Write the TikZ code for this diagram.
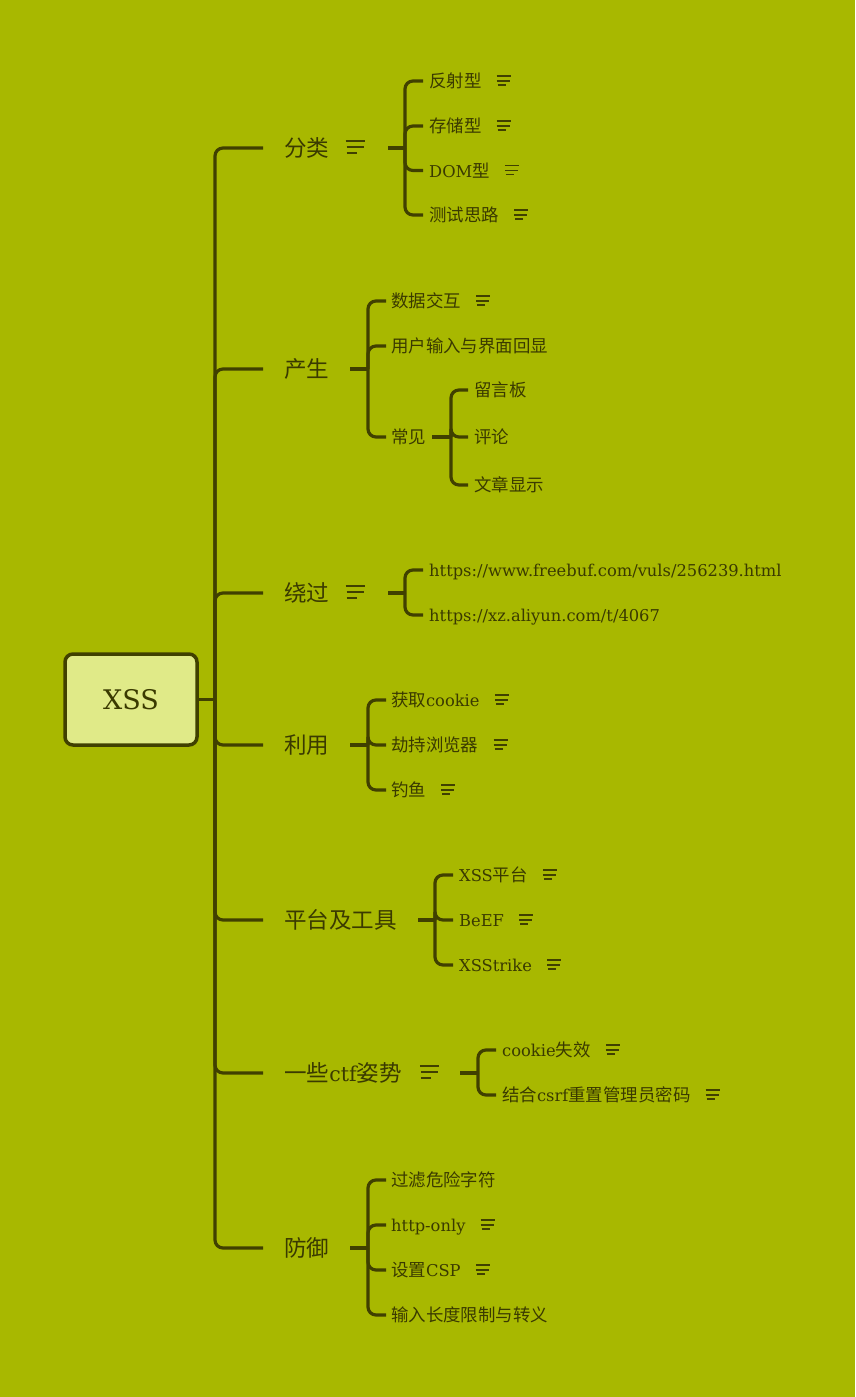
\documentclass[tikz,border=0pt]{standalone}
\usepackage{fontspec}
\setmainfont{DejaVu Serif}
\newfontfamily\cjk{Noto Sans CJK SC}[Scale=1.07]
\newfontfamily\cjkb{Noto Sans CJK SC}[Scale=1.1]
\usetikzlibrary{calc}
\definecolor{bgc}{RGB}{168,184,0}
\definecolor{ln}{RGB}{64,64,0}
\definecolor{tx}{RGB}{58,58,0}
\definecolor{rootfill}{RGB}{224,234,136}
\tikzset{
  conn/.style={draw=ln, line width=3.2pt, rounded corners=8pt},
  child/.style={anchor=west, inner sep=0pt, text=tx, text height=13pt, text depth=0pt, font=\fontsize{16.3}{19}\selectfont},
  branch/.style={anchor=west, inner sep=0pt, text=tx, text height=16.5pt, text depth=0pt, font=\fontsize{20.5}{24}\selectfont},
  icon/.style={draw=ln, line width=1.1pt},
  smicon/.pic={\draw[icon] (0,-5) -- (14,-5) (0,0) -- (13,0) (1,4) -- (9,4);},
  bgicon/.pic={\draw[icon] (0,-7) -- (19,-7) (1,-1) -- (18,-1) (1,5) -- (11,5);},
}
\begin{document}
\begin{tikzpicture}[x=1pt,y=-1pt]
\useasboundingbox (0,0) rectangle (855,1397);
\fill[bgc] (0,0) rectangle (855,1397);

% root
\node[draw=ln, line width=3.5pt, fill=rootfill, rounded corners=8pt, minimum width=132pt, minimum height=91pt, inner sep=0pt, text=tx, font=\fontsize{27}{30}\selectfont] (root) at (131,699.5) {XSS};
\coordinate (J) at (215,699.5);
\draw[conn] (root.east) -- (J);

% main branches
\node[branch] (b1) at (284,148) {\cjkb 分类};
\node[branch] (b2) at (284,369) {\cjkb 产生};
\node[branch] (b3) at (284,593) {\cjkb 绕过};
\node[branch] (b4) at (284,745) {\cjkb 利用};
\node[branch] (b5) at (284,920) {\cjkb 平台及工具};
\node[branch] (b6) at (284,1073) {{\cjkb 一些}ctf{\cjkb 姿势}};
\node[branch] (b7) at (284,1248) {\cjkb 防御};
\foreach \b in {b1,b2,b3,b4,b5,b6,b7}
  \draw[conn] (J) |- ($(\b.west)+(-21,0)$);
\pic at ($(b1.east)+(16,0)$) {bgicon};
\pic at ($(b3.east)+(16,0)$) {bgicon};
\pic at ($(b6.east)+(18,0)$) {bgicon};

% branch 1: 分类
\coordinate (b1o) at (388,148);
\coordinate (s1) at (405,148);
\draw[conn] (b1o) -- (s1);
\node[child] (c11) at (429,81) {\cjk 反射型};
\node[child] (c12) at (429,126) {\cjk 存储型};
\node[child] (c13) at (429,170.5) {DOM{\cjk 型}};
\node[child] (c14) at (429,215) {\cjk 测试思路};
\foreach \c in {c11,c12,c13,c14} {
  \draw[conn] (s1) |- ($(\c.west)+(-6,0)$);
  \pic at ($(\c.east)+(15,0)$) {smicon};
}

% branch 2: 产生
\coordinate (b2o) at (350,369);
\coordinate (s2) at (368,369);
\draw[conn] (b2o) -- (s2);
\node[child] (c21) at (391,301) {\cjk 数据交互};
\node[child] (c22) at (391,346) {\cjk 用户输入与界面回显};
\node[child] (c23) at (391,437) {\cjk 常见};
\foreach \c in {c21,c22,c23}
  \draw[conn] (s2) |- ($(\c.west)+(-5,0)$);
\pic at ($(c21.east)+(15,0)$) {smicon};
\coordinate (s23) at (451,437);
\draw[conn] ($(c23.east)+(6,0)$) -- (s23);
\node[child] (c231) at (474,390) {\cjk 留言板};
\node[child] (c232) at (474,437) {\cjk 评论};
\node[child] (c233) at (474,485) {\cjk 文章显示};
\foreach \c in {c231,c232,c233}
  \draw[conn] (s23) |- ($(\c.west)+(-6,0)$);

% branch 3: 绕过
\coordinate (b3o) at (388,593);
\coordinate (s3) at (405,593);
\draw[conn] (b3o) -- (s3);
\node[child] (c31) at (429,570) {https://www.freebuf.com/vuls/256239.html};
\node[child] (c32) at (429,615) {https://xz.aliyun.com/t/4067};
\foreach \c in {c31,c32}
  \draw[conn] (s3) |- ($(\c.west)+(-6,0)$);

% branch 4: 利用
\coordinate (b4o) at (350,745);
\coordinate (s4) at (368,745);
\draw[conn] (b4o) -- (s4);
\node[child] (c41) at (391,700) {{\cjk 获取}cookie};
\node[child] (c42) at (391,745) {\cjk 劫持浏览器};
\node[child] (c43) at (391,790) {\cjk 钓鱼};
\foreach \c in {c41,c42,c43} {
  \draw[conn] (s4) |- ($(\c.west)+(-5,0)$);
  \pic at ($(\c.east)+(15,0)$) {smicon};
}

% branch 5: 平台及工具
\coordinate (b5o) at (418,920);
\coordinate (s5) at (435,920);
\draw[conn] (b5o) -- (s5);
\node[child] (c51) at (459,875) {XSS{\cjk 平台}};
\node[child] (c52) at (459,920) {BeEF};
\node[child] (c53) at (459,965) {XSStrike};
\foreach \c in {c51,c52,c53} {
  \draw[conn] (s5) |- ($(\c.west)+(-6,0)$);
  \pic at ($(\c.east)+(15,0)$) {smicon};
}

% branch 6: 一些ctf姿势
\coordinate (b6o) at (460,1073);
\coordinate (s6) at (478,1073);
\draw[conn] (b6o) -- (s6);
\node[child] (c61) at (502,1050) {cookie{\cjk 失效}};
\node[child] (c62) at (502,1095) {{\cjk 结合}csrf{\cjk 重置管理员密码}};
\foreach \c in {c61,c62} {
  \draw[conn] (s6) |- ($(\c.west)+(-6,0)$);
  \pic at ($(\c.east)+(15,0)$) {smicon};
}

% branch 7: 防御
\coordinate (b7o) at (350,1248);
\coordinate (s7) at (368,1248);
\draw[conn] (b7o) -- (s7);
\node[child] (c71) at (391,1180) {\cjk 过滤危险字符};
\node[child] (c72) at (391,1225) {http-only};
\node[child] (c73) at (391,1270) {{\cjk 设置}CSP};
\node[child] (c74) at (391,1315) {\cjk 输入长度限制与转义};
\foreach \c in {c71,c72,c73,c74}
  \draw[conn] (s7) |- ($(\c.west)+(-5,0)$);
\pic at ($(c72.east)+(15,0)$) {smicon};
\pic at ($(c73.east)+(15,0)$) {smicon};
\end{tikzpicture}
\end{document}
